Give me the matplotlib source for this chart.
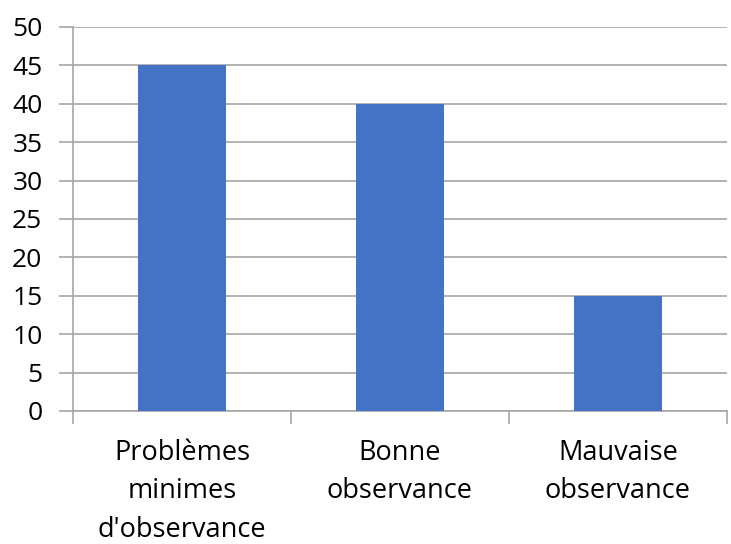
import matplotlib.pyplot as plt
import numpy as np

categories = ["Problèmes\nminimes\nd'observance", "Bonne\nobservance", "Mauvaise\nobservance"]
values = [45, 40, 15]
yticks = [0, 5, 10, 15, 20, 25, 30, 35, 40, 45, 50]

plt.rcParams['font.family'] = ['Open Sans', 'DejaVu Sans']

fig = plt.figure(figsize=(7.31, 5.44), dpi=100)
ax = fig.add_axes([73/731, 1-411/544, (727-73)/731, (411-27)/544])

x = np.arange(len(categories))
ax.bar(x, values, width=0.4, color='#4472C4', zorder=3)

ax.set_xlim(-0.5, 2.5)
ax.set_ylim(0, 50)
ax.set_yticks(yticks)
ax.yaxis.grid(True, color='#A6A6A6', linewidth=1.2, zorder=0)

for s in ['top', 'right']:
    ax.spines[s].set_visible(False)
ax.spines['left'].set_color('#A6A6A6')
ax.spines['bottom'].set_color('#A6A6A6')
ax.spines['left'].set_linewidth(1.2)
ax.spines['bottom'].set_linewidth(1.2)

ax.tick_params(axis='y', length=10, color='#A6A6A6', width=1.2, labelsize=19, pad=12)
ax.set_xticks([-0.5, 0.5, 1.5, 2.5])
ax.set_xticklabels([])
ax.tick_params(axis='x', length=9, color='#A6A6A6', width=1.2)
ax.set_xticks(x, minor=True)
ax.set_xticklabels(categories, minor=True, fontsize=19.5, linespacing=1.5)
ax.tick_params(axis='x', which='minor', length=0, pad=20)

fig.savefig('out.png', dpi=100)
